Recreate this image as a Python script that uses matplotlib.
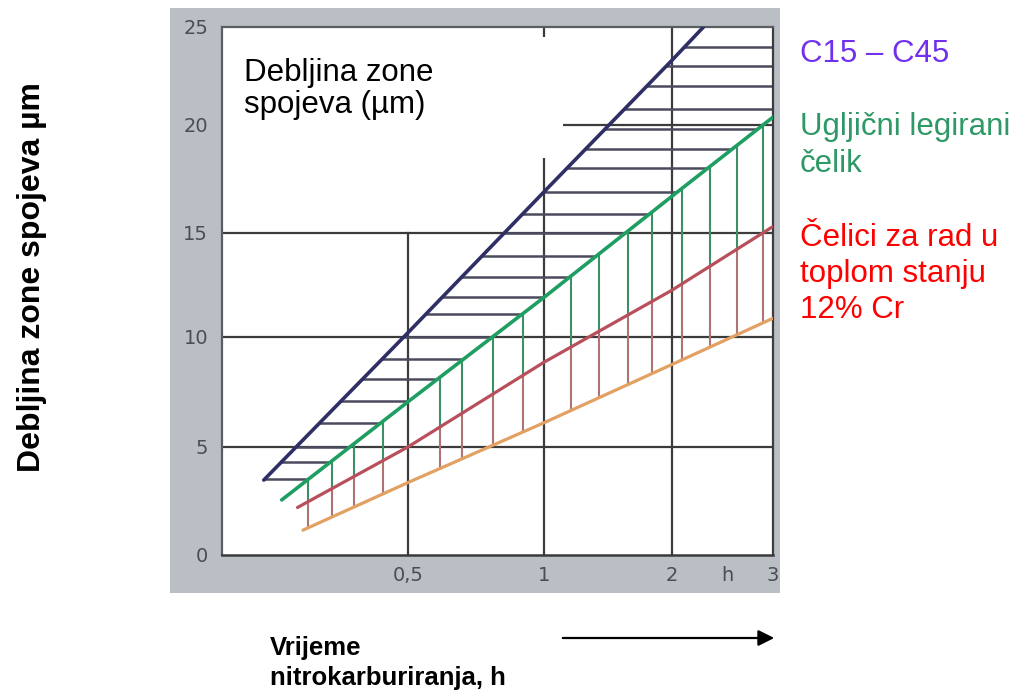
import numpy as np
import matplotlib
matplotlib.use('Agg')
import matplotlib.pyplot as plt
from matplotlib.patches import Polygon, Rectangle, FancyArrowPatch

# ---------------- data ----------------
c15_t = [0.24, 0.5, 1, 2, 2.27]            # C15 - C45 upper bound
c15_d = [3.47, 10.2, 16.9, 23.3, 25.0]
leg_t = [0.263, 0.5, 1, 2, 3]               # carbon / alloyed steel boundary
leg_d = [2.55, 7.05, 11.9, 16.7, 20.4]
cr_t = [0.285, 0.5, 1, 2, 3]                # hot-work steels 12% Cr upper bound
cr_d = [2.2, 5.0, 8.85, 12.25, 15.3]
low_t = [0.293, 0.5, 1, 2, 3]               # lower bound
low_d = [1.15, 3.35, 6.1, 8.75, 10.9]

hatch_levels = [3.5, 4.3, 5, 6.1, 7.1, 8.1, 9, 10, 11.1, 11.9, 12.9, 13.9,
                15, 15.9, 16.9, 18, 18.9, 19.8, 20.8, 22, 23, 24]
hatch_times = [0.3, 0.34, 0.38, 0.44, 0.59, 0.66, 0.77, 0.9, 1.16, 1.35,
               1.58, 1.8, 2.08, 2.33, 2.6, 2.88]

x_ticks = [0.5, 1, 2, 3]
x_ticklabels = ['0,5', '1', '2', '3']
y_ticks = [0, 5, 10, 15, 20, 25]
y_ticklabels = ['0', '5', '10', '15', '20', '25']

# ---------------- axis scales of the original drawing ----------------
XV = np.log2([0.5, 1, 2, 3])
XP = np.array([0.0, 1.0, 1.941, 2.684])
YV = np.array([0.0, 5, 10, 15, 20, 25])
YP = np.array([0.0, 108, 218, 322, 430, 528])


def _ext_interp(v, xs, ps):
    v = np.asarray(v, float)
    out = np.interp(v, xs, ps)
    lo_s = (ps[1] - ps[0]) / (xs[1] - xs[0])
    hi_s = (ps[-1] - ps[-2]) / (xs[-1] - xs[-2])
    out = np.where(v < xs[0], ps[0] + (v - xs[0]) * lo_s, out)
    out = np.where(v > xs[-1], ps[-1] + (v - xs[-1]) * hi_s, out)
    return out


def xf(x):
    return _ext_interp(np.log2(np.maximum(np.asarray(x, float), 1e-9)), XV, XP)


def xi(p):
    return np.exp2(_ext_interp(p, XP, XV))


def yf(y):
    return _ext_interp(y, YV, YP)


def yi(p):
    return _ext_interp(p, YP, YV)


# ---------------- figure ----------------
W, H = 1019, 691
fig = plt.figure(figsize=(W / 100, H / 100), dpi=100)
fig.patch.set_facecolor('white')

# grey picture background
fig.patches.append(Rectangle((170 / W, 1 - 593 / H), 610 / W, 585 / H,
                             transform=fig.transFigure, facecolor='#babfc6',
                             edgecolor='none', zorder=-5))

ax = fig.add_axes([222 / W, 1 - 555 / H, 551 / W, 528 / H])
ax.set_zorder(2)
ax.set_xscale('function', functions=(xf, xi))
ax.set_yscale('function', functions=(yf, yi))
ax.set_xlim(0.194, 3)
ax.set_ylim(0, 25)
ax.set_facecolor('white')

grid_c = '#3c3c3c'
for v in [5, 10, 15, 20]:
    ax.axhline(v, color=grid_c, lw=1.6, zorder=1)
for v in [1, 2]:
    ax.axvline(v, color=grid_c, lw=1.6, zorder=1)
ax.plot([0.5, 0.5], [0, 15], color=grid_c, lw=1.6, zorder=1)

# white text box hiding the grid in the upper left
ax.add_patch(Rectangle((0, 0.752), 0.619, 0.229, transform=ax.transAxes,
                       facecolor='white', edgecolor='none', zorder=2.5))
ax.text(22 / 551, (555 - 113) / 528, 'Debljina zone\nspojeva (µm)',
        transform=ax.transAxes, fontsize=22.5, family='Liberation Sans',
        color='black', va='baseline', ha='left', linespacing=1.1, zorder=3)

# band polygons (for clipping the hatch lines)
band1 = list(zip(c15_t, c15_d)) + [(3, 25)] + list(zip(leg_t, leg_d))[::-1]
band2 = list(zip(leg_t, leg_d)) + list(zip(cr_t, cr_d))[::-1]
band3 = list(zip(cr_t, cr_d)) + list(zip(low_t, low_d))[::-1]
polys = []
for b in (band1, band2, band3):
    p = Polygon(b, closed=True, transform=ax.transData, facecolor='none',
                edgecolor='none')
    ax.add_patch(p)
    polys.append(p)

for lv in hatch_levels:
    ln = ax.axhline(lv, color='#4b4b5e', lw=1.8, zorder=2)
    ln.set_clip_path(polys[0])
for t in hatch_times:
    ln = ax.axvline(t, color='#3f8f66', lw=1.5, zorder=2)
    ln.set_clip_path(polys[1])
    ln = ax.axvline(t, color='#b07373', lw=1.5, zorder=2)
    ln.set_clip_path(polys[2])

ax.plot(c15_t, c15_d, color='#2f2f66', lw=2.6, zorder=4, solid_capstyle='round')
ax.plot(leg_t, leg_d, color='#1f9e62', lw=2.6, zorder=4, solid_capstyle='round')
ax.plot(cr_t, cr_d, color='#b84f5a', lw=2.3, zorder=4, solid_capstyle='round')
ax.plot(low_t, low_d, color='#e2a162', lw=2.3, zorder=4, solid_capstyle='round')

# spines / ticks
for s in ['left', 'top']:
    ax.spines[s].set_color('#5a5e63')
    ax.spines[s].set_linewidth(1.6)
ax.spines['bottom'].set_color('#3a3a3a')
ax.spines['bottom'].set_linewidth(1.8)
ax.spines['right'].set_color(grid_c)
ax.spines['right'].set_linewidth(1.6)

ax.set_xticks(x_ticks)
ax.set_xticklabels(x_ticklabels)
ax.set_yticks(y_ticks)
ax.set_yticklabels(y_ticklabels)
ax.minorticks_off()
ax.tick_params(axis='both', length=0, labelsize=14, labelcolor='#4a4e54')
ax.tick_params(axis='x', pad=8)
ax.tick_params(axis='y', pad=10)
ax.text(2.5, -11 / 528, 'h', transform=ax.get_xaxis_transform(), ha='center',
        va='top', fontsize=14, color='#4a4e54')

# ---------------- texts outside ----------------
fs = 22.5
fig.text(800 / W, 1 - 62 / H, 'C15 – C45', color='#7030ee', fontsize=fs,
         family='Liberation Sans', va='baseline', ha='left')
fig.text(800 / W, 1 - 172 / H, 'Ugljični legirani\nčelik', color='#2e9966',
         fontsize=fs, family='Liberation Sans', va='baseline', ha='left',
         linespacing=1.3)
fig.text(800 / W, 1 - 318 / H, 'Čelici za rad u\ntoplom stanju\n12% Cr',
         color='#ff0000', fontsize=fs, family='Liberation Sans',
         va='baseline', ha='left', linespacing=1.26)

fig.text(32 / W, 1 - 277 / H, 'Debljina zone spojeva µm', rotation=90,
         fontsize=23, fontweight='bold', family='Liberation Sans',
         ha='center', va='center')
fig.text(270 / W, 1 - 685 / H, 'Vrijeme\nnitrokarburiranja, h',
         fontsize=18.5, fontweight='bold', family='Liberation Sans',
         ha='left', va='baseline', linespacing=1.3)

arr = FancyArrowPatch((560 / W, 1 - 638 / H), (777 / W, 1 - 638 / H),
                      transform=fig.transFigure, arrowstyle='-|>',
                      mutation_scale=24, lw=1.6, color='black')
fig.patches.append(arr)

fig.savefig('out.png', dpi=100)
